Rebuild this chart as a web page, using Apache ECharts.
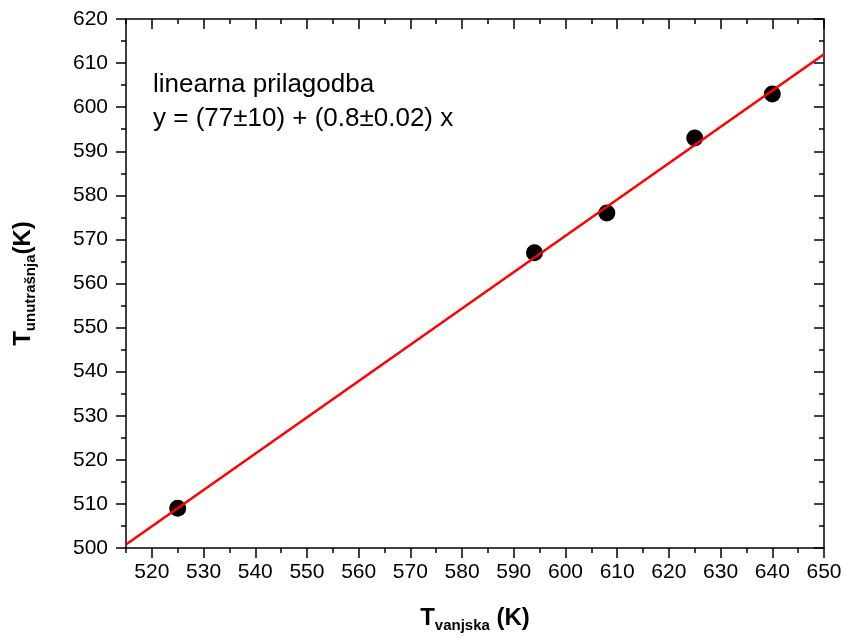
<!DOCTYPE html>
<html>
<head>
<meta charset="utf-8">
<script src="https://cdn.jsdelivr.net/npm/echarts@6/dist/echarts.min.js"></script>
<style>
html,body{margin:0;padding:0;background:#fff}
#c{width:845px;height:638px}
</style>
</head>
<body>
<div id="c"></div>
<script>
// measured points
const xVanjska = [525, 594, 608, 625, 640];
const yUnutrasnja = [509, 567, 576, 593, 603];
// fitted line endpoints
const fitX = [515, 650];
const fitY = [500.8, 612.0];
// tick values
const xMajorTicks = [520, 530, 540, 550, 560, 570, 580, 590, 600, 610, 620, 630, 640, 650];
const xMinorTicks = [515, 525, 535, 545, 555, 565, 575, 585, 595, 605, 615, 625, 635, 645];
const yMajorTicks = [500, 510, 520, 530, 540, 550, 560, 570, 580, 590, 600, 610, 620];
const yMinorTicks = [505, 515, 525, 535, 545, 555, 565, 575, 585, 595, 605, 615];
// texts
const fitLabel = ['linearna prilagodba', 'y = (77±10) + (0.8±0.02) x'];
const xTitle = ['T', 'vanjska', ' (K)'];
const yTitle = ['T', 'unutrašnja', '(K)'];

const FONT = "'Liberation Sans', Arial, Helvetica, sans-serif";
const X_MIN = 515, X_MAX = 650, Y_MIN = 500, Y_MAX = 620;
const AXIS_COLOR = '#000';

const titleRich = {
  t: { fontSize: 24, fontWeight: 'bold', fontFamily: FONT, color: '#000', lineHeight: 30 },
  s: { fontSize: 15, fontWeight: 'bold', fontFamily: FONT, color: '#000', lineHeight: 6, verticalAlign: 'bottom' }
};

function mkAxis(extra, isX) {
  return Object.assign({
    type: 'value',
    gridIndex: 0,
    min: isX ? X_MIN : Y_MIN,
    max: isX ? X_MAX : Y_MAX,
    splitLine: { show: false },
    axisLine: { show: false },
    axisLabel: { show: false },
    axisTick: { show: false }
  }, extra);
}

const tickLine = { color: AXIS_COLOR, width: 1.5 };

const option = {
  animation: false,
  backgroundColor: '#fff',
  grid: { left: 126, right: 21, top: 19, bottom: 90, containLabel: false },
  xAxis: [
    mkAxis({
      position: 'bottom',
      axisLine: { show: true, onZero: false, lineStyle: { color: AXIS_COLOR, width: 1.5 } },
      axisTick: { show: true, inside: false, length: 10, customValues: xMajorTicks, lineStyle: tickLine },
      axisLabel: { show: true, customValues: xMajorTicks, fontSize: 21, color: '#000', fontFamily: FONT, margin: 14 },
      name: '{t|' + xTitle[0] + '}{s|' + xTitle[1] + '}{t|' + xTitle[2] + '}',
      nameLocation: 'middle',
      nameGap: 55,
      nameTextStyle: { rich: titleRich }
    }, true),
    mkAxis({
      position: 'bottom',
      axisTick: { show: true, inside: false, length: 5, customValues: xMinorTicks, lineStyle: tickLine }
    }, true),
    mkAxis({
      position: 'top',
      axisLine: { show: true, onZero: false, lineStyle: { color: AXIS_COLOR, width: 1.5 } },
      axisTick: { show: true, inside: true, length: 10, customValues: xMajorTicks, lineStyle: tickLine }
    }, true),
    mkAxis({
      position: 'top',
      axisTick: { show: true, inside: true, length: 5, customValues: xMinorTicks, lineStyle: tickLine }
    }, true)
  ],
  yAxis: [
    mkAxis({
      position: 'left',
      axisLine: { show: true, onZero: false, lineStyle: { color: AXIS_COLOR, width: 1.5 } },
      axisTick: { show: true, inside: false, length: 10, customValues: yMajorTicks, lineStyle: tickLine },
      axisLabel: { show: true, customValues: yMajorTicks, fontSize: 21, color: '#000', fontFamily: FONT, margin: 18 },
      name: '{t|' + yTitle[0] + '}{s|' + yTitle[1] + '}{t|' + yTitle[2] + '}',
      nameLocation: 'middle',
      nameGap: 88,
      nameRotate: 90,
      nameTextStyle: { rich: titleRich }
    }, false),
    mkAxis({
      position: 'left',
      axisTick: { show: true, inside: false, length: 5, customValues: yMinorTicks, lineStyle: tickLine }
    }, false),
    mkAxis({
      position: 'right',
      axisLine: { show: true, onZero: false, lineStyle: { color: AXIS_COLOR, width: 1.5 } },
      axisTick: { show: true, inside: true, length: 10, customValues: yMajorTicks, lineStyle: tickLine }
    }, false),
    mkAxis({
      position: 'right',
      axisTick: { show: true, inside: true, length: 5, customValues: yMinorTicks, lineStyle: tickLine }
    }, false)
  ],
  graphic: [{
    type: 'text',
    left: 153,
    top: 68,
    style: {
      text: fitLabel.join('\n'),
      fontFamily: FONT,
      fontSize: 26,
      lineHeight: 34,
      fill: '#000'
    }
  }],
  series: [
    {
      type: 'scatter',
      xAxisIndex: 0,
      yAxisIndex: 0,
      data: xVanjska.map((x, i) => [x, yUnutrasnja[i]]),
      symbol: 'circle',
      symbolSize: 17,
      itemStyle: { color: '#000', opacity: 1 },
      z: 2
    },
    {
      type: 'line',
      xAxisIndex: 0,
      yAxisIndex: 0,
      data: fitX.map((x, i) => [x, fitY[i]]),
      showSymbol: false,
      symbol: 'none',
      lineStyle: { color: '#ff0000', width: 2.5 },
      z: 3
    }
  ]
};

const chart = echarts.init(document.getElementById('c'), null, { renderer: 'canvas' });
chart.setOption(option);
</script>
</body>
</html>
